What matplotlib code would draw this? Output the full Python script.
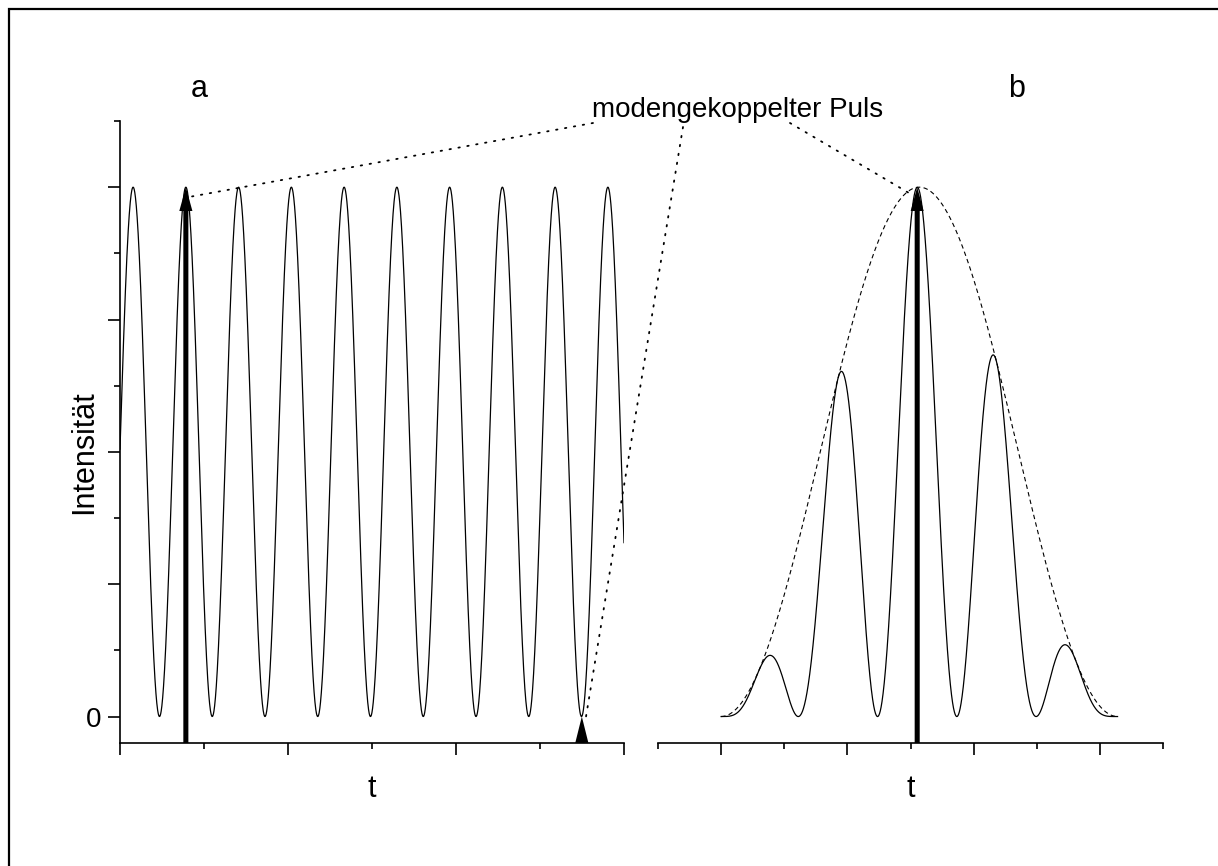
import numpy as np
import matplotlib
matplotlib.use('Agg')
import matplotlib.pyplot as plt
from matplotlib.patches import FancyArrow, Rectangle, ConnectionPatch
from matplotlib.ticker import MultipleLocator

plt.rcParams['font.family'] = ['Liberation Sans', 'DejaVu Sans']

# ---- texts ----
panel_labels = ['a', 'b']
x_label = 't'
y_label = 'Intensität'
annotation_text = 'modengekoppelter Puls'
y_tick_values = [0, 1, 2, 3, 4]
y_tick_labels = ['0', '', '', '', '']

# ---- panel a: continuous oscillation ----
a_peak = 4.0
a_trough = 0.0
a_period = 0.314
a_first_peak = 0.078
a_xlim = (0.0, 3.0)

# ---- panel b: mode-locked pulse ----
b_env_peak = 4.0
b_env_start = 0.0
b_env_end = 3.14
b_carrier_period = 0.628
b_carrier_peak = 1.553
b_xlim = (-0.5, 3.5)

ylim = (-0.2, 4.5)

# ---- arrows (x position, tip value) ----
a_arrow_x = [0.392, 2.749]
a_arrow_tip = [4.0, 0.0]
b_arrow_x = [1.553]
b_arrow_tip = [4.0]

# ---- connector end points (data coords of each panel) ----
a_connect_pts = [(0.429, 3.93), (2.774, 0.0)]
b_connect_pts = [(1.516, 3.94)]

W, H = 1218, 866
fig = plt.figure(figsize=(W / 100, H / 100), dpi=100)
axA = fig.add_axes([120 / W, 123 / H, 504 / W, 622 / H])
axB = fig.add_axes([658 / W, 123 / H, 505 / W, 622 / H])

# curve a
xa = np.linspace(a_xlim[0], a_xlim[1], 3000)
mid = (a_peak + a_trough) / 2
amp = (a_peak - a_trough) / 2
ya = mid + amp * np.cos(2 * np.pi * (xa - a_first_peak) / a_period)
axA.plot(xa, ya, color='black', lw=0.9)

# curve b
xb = np.linspace(b_env_start, b_env_end, 3000)
env = b_env_peak * np.sin(np.pi * (xb - b_env_start) / (b_env_end - b_env_start)) ** 2
pulse = env * np.cos(np.pi * (xb - b_carrier_peak) / b_carrier_period) ** 2
axB.plot(xb, pulse, color='black', lw=0.9)
axB.plot(xb, env, color='black', lw=0.8, linestyle=(0, (4, 3)))

for ax, xl in ((axA, a_xlim), (axB, b_xlim)):
    ax.set_xlim(*xl)
    ax.set_ylim(*ylim)
    ax.spines['top'].set_visible(False)
    ax.spines['right'].set_visible(False)
    for s in ax.spines.values():
        s.set_linewidth(1.2)
    ax.xaxis.set_major_locator(MultipleLocator(1))
    ax.xaxis.set_minor_locator(MultipleLocator(0.5))
    ax.tick_params(axis='both', which='major', length=8.6, width=1.2, direction='out',
                   labelsize=20, pad=5)
    ax.tick_params(axis='both', which='minor', length=4.3, width=1.2, direction='out')
    ax.tick_params(axis='x', labelbottom=False)
    ax.set_xlabel(x_label, fontsize=22, labelpad=14)
    ax.set_facecolor('none')

axA.set_yticks(y_tick_values)
axA.set_yticklabels(y_tick_labels)
axA.yaxis.set_minor_locator(MultipleLocator(0.5))
axB.spines['left'].set_visible(False)
axB.tick_params(axis='y', which='both', left=False, labelleft=False)

# arrows
def add_arrow(ax, x, tip, width, head_width, head_length):
    ar = FancyArrow(x, ylim[0], 0, tip - ylim[0], width=width, head_width=head_width,
                    head_length=head_length, length_includes_head=True,
                    color='black', lw=0, clip_on=False, zorder=5)
    ax.add_patch(ar)

add_arrow(axA, a_arrow_x[0], a_arrow_tip[0], 0.03, 0.078, 0.18)
add_arrow(axA, a_arrow_x[1], a_arrow_tip[1], 0.03, 0.078, 0.199)
add_arrow(axB, b_arrow_x[0], b_arrow_tip[0], 0.04, 0.103, 0.18)

# texts
fig.text(199 / W, 1 - 97 / H, panel_labels[0], ha='center', va='baseline', fontsize=22)
fig.text(1017 / W, 1 - 97 / H, panel_labels[1], ha='center', va='baseline', fontsize=22)
fig.text(738 / W, 1 - 117 / H, annotation_text, ha='center', va='baseline', fontsize=20)
fig.text(84 / W, 1 - 452 / H, y_label, rotation=90, ha='center', va='center', fontsize=22)

# dotted connectors
starts = [(593, 123), (683, 127), (790, 123)]
targets = [(axA, a_connect_pts[0]), (axA, a_connect_pts[1]), (axB, b_connect_pts[0])]
for (sx, sy), (ax, pt) in zip(starts, targets):
    cp = ConnectionPatch(xyA=(sx / W, 1 - sy / H), coordsA='figure fraction',
                         xyB=pt, coordsB='data', axesB=ax,
                         color='black', lw=1.3, linestyle=(0, (0.8, 4.2)), zorder=6)
    fig.add_artist(cp)

# frame
fig.add_artist(Rectangle((8.5 / W, -0.1), 1.2, 1 - 8.5 / H + 0.1, transform=fig.transFigure,
                         fill=False, lw=1.6, edgecolor='black'))

fig.savefig('out.png', dpi=100)
